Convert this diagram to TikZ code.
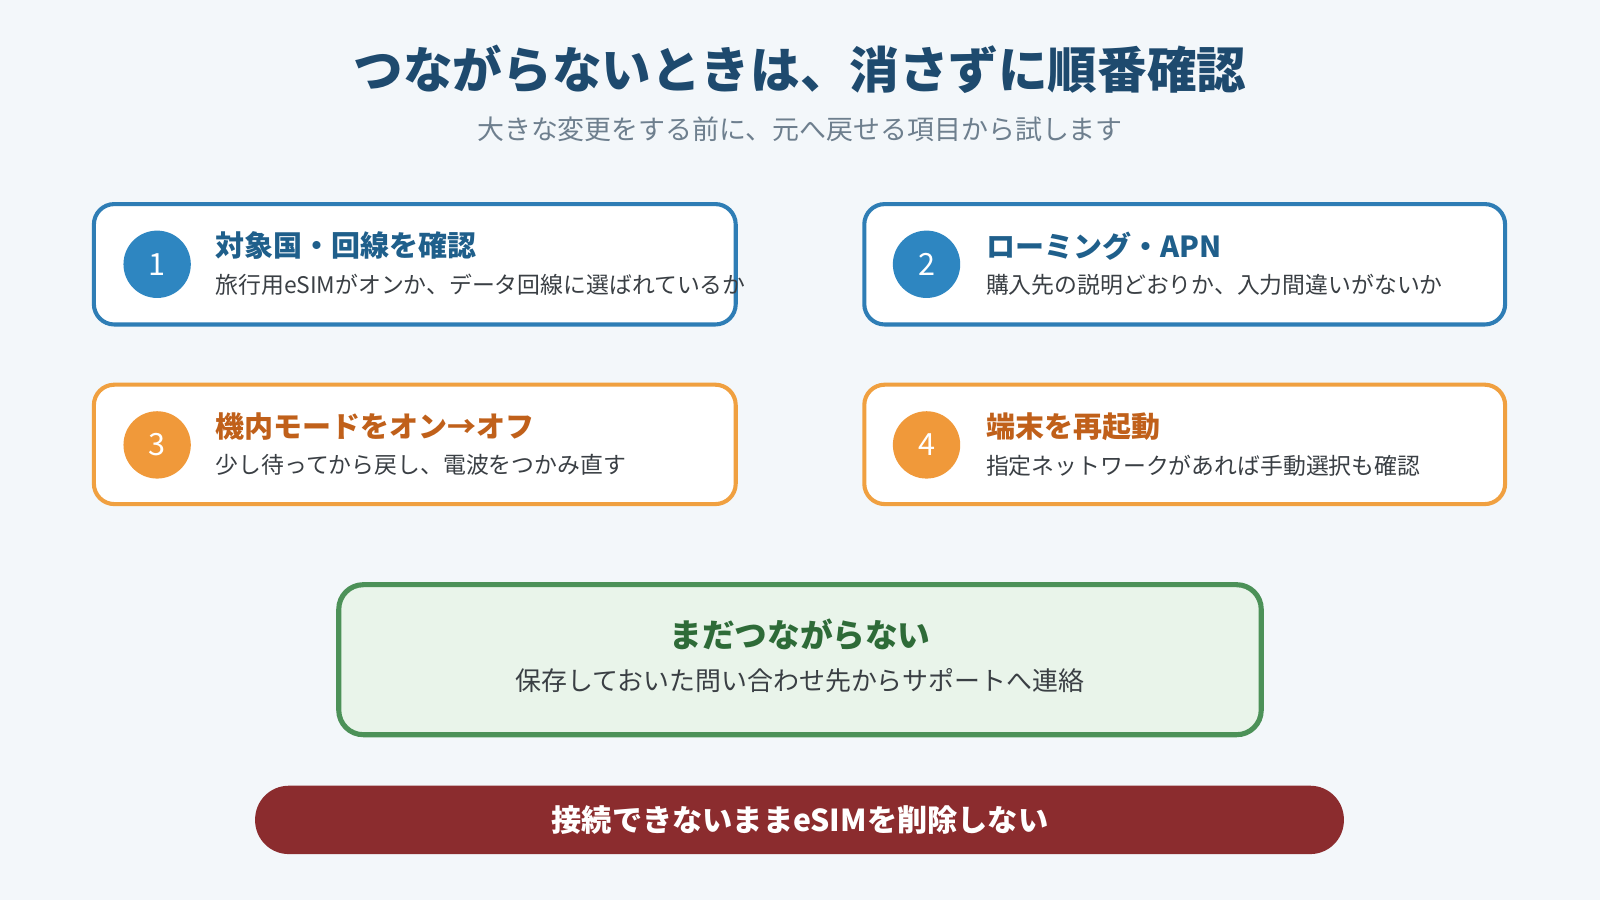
\documentclass[tikz,border=0pt]{standalone}
\usepackage{fontspec}
\setmainfont{Noto Sans CJK JP}
\begin{document}
\begin{tikzpicture}[x=0.5pt,y=-0.5pt,
 box/.style={line width=2pt,fill=white,rounded corners=10pt},
 num/.style={circle,minimum size=33pt,inner sep=0,text=white,font=\fontsize{15}{15}\selectfont},
 ttl/.style={anchor=west,inner sep=0,font=\fontsize{14.2}{14}\selectfont\bfseries},
 dsc/.style={anchor=west,inner sep=0,text=textgray,font=\fontsize{11.2}{11}\selectfont}]
\definecolor{bg}{HTML}{F3F7FA}
\definecolor{navy}{HTML}{1E4A6E}
\definecolor{subg}{HTML}{6E7F8E}
\definecolor{blueb}{HTML}{2E7DB5}
\definecolor{bluec}{HTML}{2E86C1}
\definecolor{bluet}{HTML}{1F5F8B}
\definecolor{orb}{HTML}{F0A040}
\definecolor{orc}{HTML}{F0993A}
\definecolor{ort}{HTML}{C0601A}
\definecolor{grb}{HTML}{4C9158}
\definecolor{grf}{HTML}{E9F4EA}
\definecolor{grt}{HTML}{2E6B38}
\definecolor{redf}{HTML}{8B2C2E}
\definecolor{textgray}{HTML}{3A3F44}
\fill[bg] (0,0) rectangle (1568,882);
\useasboundingbox (0,0) rectangle (1568,882);
\node[font=\fontsize{24.3}{24}\selectfont\bfseries,text=navy] (title) at (784,68) {つながらないときは、消さずに順番確認};
\node[font=\fontsize{13.2}{13}\selectfont,text=subg] (sub) at (784,127) {大きな変更をする前に、元へ戻せる項目から試します};
% boxes
\draw[box,draw=blueb] (92,200) rectangle (721,318);
\node[num,fill=bluec] (n1) at (154,259) {1};
\node[ttl,text=bluet] (t1) at (211,241) {対象国・回線を確認};
\node[dsc] (d1) at (211,279) {旅行用eSIMがオンか、データ回線に選ばれているか};
\draw[box,draw=blueb] (847,200) rectangle (1475,318);
\node[num,fill=bluec] (n2) at (908,259) {2};
\node[ttl,text=bluet] (t2) at (966,241) {ローミング・APN};
\node[dsc] (d2) at (966,279) {購入先の説明どおりか、入力間違いがないか};
\draw[box,draw=orb] (92,377) rectangle (721,494);
\node[num,fill=orc] (n3) at (154,436) {3};
\node[ttl,text=ort] (t3) at (211,418) {機内モードをオン→オフ};
\node[dsc] (d3) at (211,456) {少し待ってから戻し、電波をつかみ直す};
\draw[box,draw=orb] (847,377) rectangle (1475,494);
\node[num,fill=orc] (n4) at (908,436) {4};
\node[ttl,text=ort] (t4) at (966,418) {端末を再起動};
\node[dsc] (d4) at (966,456) {指定ネットワークがあれば手動選択も確認};
% green
\draw[line width=2.5pt,draw=grb,fill=grf,rounded corners=12pt] (332,573) rectangle (1236,720);
\node[font=\fontsize{16}{16}\selectfont\bfseries,text=grt] (gt) at (784,622) {まだつながらない};
\node[font=\fontsize{12.7}{13}\selectfont,text=textgray] (gd) at (784,667) {保存しておいた問い合わせ先からサポートへ連絡};
% red
\fill[redf,rounded corners=16.5pt] (250,770) rectangle (1317,837);
\node[font=\fontsize{14.8}{15}\selectfont\bfseries,text=white] (rt) at (784,804) {接続できないままeSIMを削除しない};
\end{tikzpicture}
\end{document}
